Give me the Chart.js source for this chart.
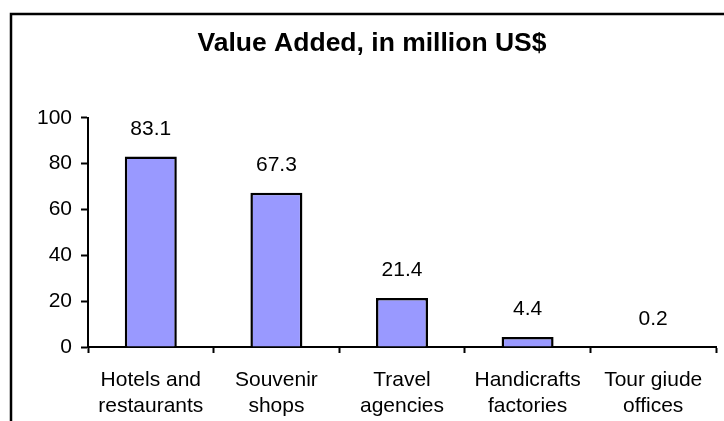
<!DOCTYPE html>
<html>
<head>
<meta charset="utf-8">
<script src="https://cdn.jsdelivr.net/npm/chart.js@4/dist/chart.umd.min.js"></script>
<style>
  html, body { margin: 0; padding: 0; background: #ffffff; }
  #wrap { width: 724px; height: 421px; }
</style>
</head>
<body>
<div id="wrap"><canvas id="myChart" width="724" height="421"></canvas></div>
<script>
// chart data
var categories = [
    ['Hotels and', 'restaurants'],
    ['Souvenir', 'shops'],
    ['Travel', 'agencies'],
    ['Handicrafts', 'factories'],
    ['Tour giude', 'offices']
];
var valueAdded = [83.1, 67.3, 21.4, 4.4, 0.2];
var yTicks = [0, 20, 40, 60, 80, 100];

var myChart;

// frame around the whole chart (runs off the right and bottom edge)
var framePlugin = {
    id: 'frame',
    beforeDraw: function(chart) {
        var ctx = chart.ctx;
        ctx.save();
        ctx.strokeStyle = '#000000';
        ctx.lineWidth = 2.5;
        ctx.strokeRect(11, 14, 800, 600);
        ctx.restore();
    }
};

// value above each bar
var valueLabels = {
    id: 'valueLabels',
    afterDatasetsDraw: function(chart) {
        var ctx = chart.ctx;
        var meta = chart.getDatasetMeta(0);
        ctx.save();
        ctx.fillStyle = '#000000';
        ctx.font = '21px "Liberation Sans", Arial, sans-serif';
        ctx.textAlign = 'center';
        ctx.textBaseline = 'alphabetic';
        meta.data.forEach(function(bar, i) {
            ctx.fillText(valueAdded[i].toFixed(1), bar.x, bar.y - 22);
        });
        ctx.restore();
    }
};

window.onload = function() {
    drawChart();
};

function drawChart() {
    var ctx = document.getElementById('myChart').getContext('2d');
    if (myChart) {
        myChart.destroy();
    }
    myChart = new Chart(ctx, {
        type: 'bar',
        data: {
            labels: categories,
            datasets: [{
                label: 'Value Added',
                data: valueAdded,
                backgroundColor: '#9999ff',
                borderColor: '#000000',
                borderWidth: 2.5,
                categoryPercentage: 1.0,
                barPercentage: 0.414
            }]
        },
        options: {
            responsive: false,
            animation: false,
            // left padding shifts the title centre to the right like the original
            layout: { padding: { left: 28, right: 8, top: 0, bottom: 0 } },
            plugins: {
                legend: { display: false },
                tooltip: { enabled: false },
                title: {
                    display: true,
                    text: 'Value Added, in million US$',
                    color: '#000000',
                    font: { family: '"Liberation Sans", Arial, sans-serif', size: 26.5, weight: 'bold', lineHeight: 1.2 },
                    padding: { top: 28, bottom: 58 }
                }
            },
            scales: {
                x: {
                    offset: true,
                    grid: {
                        offset: true,
                        drawOnChartArea: false,
                        drawTicks: true,
                        tickLength: 6,
                        tickWidth: 2,
                        tickColor: '#000000'
                    },
                    border: { display: true, color: '#000000', width: 2 },
                    ticks: {
                        color: '#000000',
                        padding: 14,
                        maxRotation: 0,
                        autoSkip: false,
                        font: { family: '"Liberation Sans", Arial, sans-serif', size: 21, lineHeight: 1.24 }
                    },
                    afterFit: function(scale) { scale.height = 74; }
                },
                y: {
                    min: 0,
                    max: 100,
                    afterBuildTicks: function(scale) {
                        scale.ticks = yTicks.map(function(v) { return { value: v }; });
                    },
                    grid: {
                        drawOnChartArea: false,
                        drawTicks: true,
                        tickLength: 7,
                        tickWidth: 2,
                        tickColor: '#000000'
                    },
                    border: { display: true, color: '#000000', width: 2 },
                    ticks: {
                        color: '#000000',
                        padding: 9,
                        font: { family: '"Liberation Sans", Arial, sans-serif', size: 21 }
                    },
                    afterFit: function(scale) { scale.width = 60; }
                }
            }
        },
        plugins: [framePlugin, valueLabels]
    });
}
</script>
</body>
</html>
